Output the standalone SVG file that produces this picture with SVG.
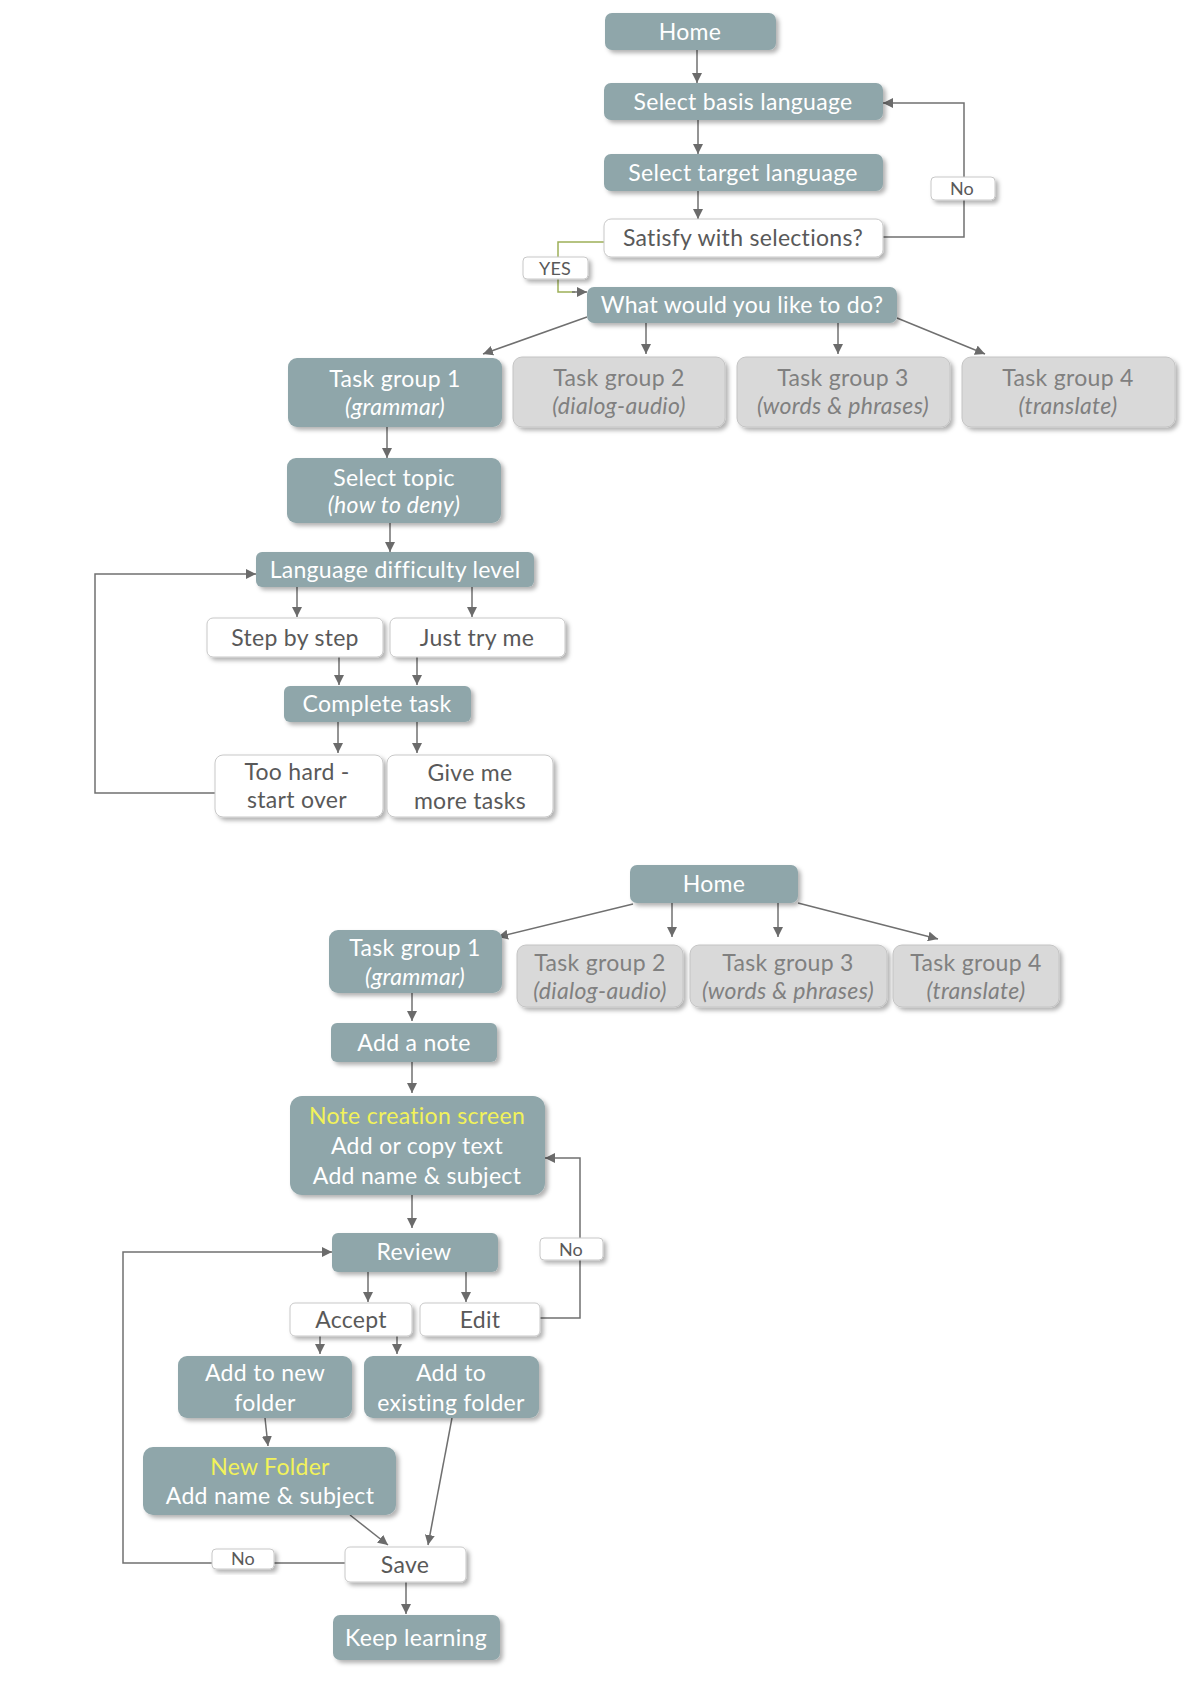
<svg xmlns="http://www.w3.org/2000/svg" width="1200" height="1697" viewBox="0 0 1200 1697">
<defs>
<filter id="sh" x="-10%" y="-20%" width="125%" height="150%">
<feDropShadow dx="3" dy="3" stdDeviation="2" flood-color="#000" flood-opacity="0.3"/>
</filter>
<marker id="ar" viewBox="0 0 10 10" refX="10" refY="5" markerWidth="10" markerHeight="10" markerUnits="userSpaceOnUse" orient="auto">
<path d="M0,0 L10,5 L0,10 z" fill="#6b6b6b"/>
</marker>
</defs>
<style>
.t{fill:#8fa6aa;filter:url(#sh)}
.g{fill:#d9d9d9;stroke:#c4c4c4;stroke-width:1;filter:url(#sh)}
.w{fill:#fff;stroke:#c8c8c8;stroke-width:1;filter:url(#sh)}
text{font-family:Lato,"Open Sans",sans-serif;font-size:23px;letter-spacing:0.3px;text-anchor:middle}
.tw{fill:#fff}
.tg{fill:#808080}
.td{fill:#595959}
.ty{fill:#f2f25a}
.i{font-style:italic}
.s{font-size:18px;letter-spacing:0.2px}
.c{fill:none;stroke:#707070;stroke-width:1.5}
.ca{fill:none;stroke:#707070;stroke-width:1.5;marker-end:url(#ar)}
.cy{fill:none;stroke:#9db058;stroke-width:1.5}
</style>
<rect width="1200" height="1697" fill="#fff"/>

<g id="connectors">
<line class="ca" x1="697" y1="50" x2="697" y2="83"/>
<line class="ca" x1="698" y1="120" x2="698" y2="154"/>
<line class="ca" x1="698" y1="191" x2="698" y2="219"/>
<polyline class="ca" points="883,237 964,237 964,103 883,103"/>
<polyline class="cy" points="604,242 558,242 558,292 575,292"/>
<line class="ca" x1="572" y1="292" x2="587" y2="292"/>
<line class="ca" x1="587" y1="317" x2="483" y2="354"/>
<line class="ca" x1="646" y1="323" x2="646" y2="354"/>
<line class="ca" x1="838" y1="323" x2="838" y2="354"/>
<line class="ca" x1="897" y1="318" x2="985" y2="354"/>
<line class="ca" x1="387" y1="427" x2="387" y2="458"/>
<line class="ca" x1="390" y1="523" x2="390" y2="552"/>
<line class="ca" x1="297" y1="587" x2="297" y2="617"/>
<line class="ca" x1="472" y1="587" x2="472" y2="617"/>
<line class="ca" x1="339" y1="657" x2="339" y2="685"/>
<line class="ca" x1="417" y1="657" x2="417" y2="685"/>
<line class="ca" x1="338" y1="722" x2="338" y2="753"/>
<line class="ca" x1="417" y1="722" x2="417" y2="753"/>
<polyline class="ca" points="215,793 95,793 95,574 256,574"/>

<line class="ca" x1="633" y1="904" x2="498" y2="937"/>
<line class="ca" x1="672" y1="903" x2="672" y2="937"/>
<line class="ca" x1="778" y1="903" x2="778" y2="937"/>
<line class="ca" x1="798" y1="903" x2="938" y2="939"/>
<line class="ca" x1="412" y1="993" x2="412" y2="1021"/>
<line class="ca" x1="412" y1="1062" x2="412" y2="1093"/>
<line class="ca" x1="412" y1="1195" x2="412" y2="1228"/>
<line class="ca" x1="368" y1="1272" x2="368" y2="1302"/>
<line class="ca" x1="466" y1="1272" x2="466" y2="1302"/>
<polyline class="ca" points="540,1318 580,1318 580,1158 545,1158"/>
<line class="ca" x1="320" y1="1336" x2="320" y2="1354"/>
<line class="ca" x1="397" y1="1336" x2="397" y2="1354"/>
<line class="ca" x1="265" y1="1418" x2="268" y2="1446"/>
<line class="ca" x1="350" y1="1515" x2="388" y2="1545"/>
<line class="ca" x1="452" y1="1418" x2="428" y2="1545"/>
<polyline class="ca" points="345,1563 123,1563 123,1252 332,1252"/>
<line class="ca" x1="406" y1="1582" x2="406" y2="1614"/>
</g>

<g id="home1"><rect class="t" x="605" y="13" width="171" height="37" rx="7"/><text class="tw" x="690" y="40">Home</text></g>
<g id="basis"><rect class="t" x="604" y="83" width="279" height="37" rx="7"/><text class="tw" x="743" y="110">Select basis language</text></g>
<g id="target"><rect class="t" x="604" y="154" width="279" height="37" rx="7"/><text class="tw" x="743" y="181">Select target language</text></g>
<g id="satisfy"><rect class="w" x="604" y="219" width="279" height="38" rx="7"/><text class="td" x="743" y="246">Satisfy with selections?</text></g>
<g id="no1"><rect class="w" x="931" y="177" width="64" height="23" rx="4"/><text class="td s" x="962" y="195">No</text></g>
<g id="yes"><rect class="w" x="523" y="257" width="65" height="22" rx="4"/><text class="td s" x="555" y="275">YES</text></g>
<g id="what"><rect class="t" x="587" y="287" width="310" height="36" rx="7"/><text class="tw" x="742" y="313">What would you like to do?</text></g>
<g id="tg1"><rect class="t" x="288" y="358" width="214" height="69" rx="9"/><text class="tw" x="395" y="387">Task group 1</text><text class="tw i" x="395" y="415">(grammar)</text></g>
<g id="tg2"><rect class="g" x="513" y="357" width="212" height="70" rx="9"/><text class="tg" x="619" y="386">Task group 2</text><text class="tg i" x="619" y="414">(dialog-audio)</text></g>
<g id="tg3"><rect class="g" x="737" y="357" width="213" height="70" rx="9"/><text class="tg" x="843" y="386">Task group 3</text><text class="tg i" x="843" y="414">(words &amp; phrases)</text></g>
<g id="tg4"><rect class="g" x="962" y="357" width="213" height="70" rx="9"/><text class="tg" x="1068" y="386">Task group 4</text><text class="tg i" x="1068" y="414">(translate)</text></g>
<g id="topic"><rect class="t" x="287" y="458" width="214" height="65" rx="9"/><text class="tw" x="394" y="486">Select topic</text><text class="tw i" x="394" y="513">(how to deny)</text></g>
<g id="level"><rect class="t" x="256" y="552" width="278" height="35" rx="6"/><text class="tw" x="395" y="578">Language difficulty level</text></g>
<g id="step"><rect class="w" x="207" y="618" width="176" height="39" rx="6"/><text class="td" x="295" y="646">Step by step</text></g>
<g id="just"><rect class="w" x="390" y="618" width="175" height="39" rx="6"/><text class="td" x="477" y="646">Just try me</text></g>
<g id="complete"><rect class="t" x="284" y="686" width="187" height="36" rx="6"/><text class="tw" x="377" y="712">Complete task</text></g>
<g id="toohard"><rect class="w" x="215" y="755" width="168" height="62" rx="8"/><text class="td" x="297" y="780">Too hard -</text><text class="td" x="297" y="808">start over</text></g>
<g id="giveme"><rect class="w" x="387" y="755" width="166" height="62" rx="8"/><text class="td" x="470" y="781">Give me</text><text class="td" x="470" y="809">more tasks</text></g>

<g id="home2"><rect class="t" x="630" y="865" width="168" height="38" rx="7"/><text class="tw" x="714" y="892">Home</text></g>
<g id="tg1b"><rect class="t" x="329" y="930" width="173" height="63" rx="9"/><text class="tw" x="415" y="956">Task group 1</text><text class="tw i" x="415" y="985">(grammar)</text></g>
<g id="tg2b"><rect class="g" x="517" y="945" width="166" height="62" rx="9"/><text class="tg" x="600" y="971">Task group 2</text><text class="tg i" x="600" y="999">(dialog-audio)</text></g>
<g id="tg3b"><rect class="g" x="690" y="945" width="197" height="62" rx="9"/><text class="tg" x="788" y="971">Task group 3</text><text class="tg i" x="788" y="999">(words &amp; phrases)</text></g>
<g id="tg4b"><rect class="g" x="893" y="945" width="166" height="62" rx="9"/><text class="tg" x="976" y="971">Task group 4</text><text class="tg i" x="976" y="999">(translate)</text></g>
<g id="addnote"><rect class="t" x="331" y="1023" width="166" height="39" rx="6"/><text class="tw" x="414" y="1051">Add a note</text></g>
<g id="notescreen"><rect class="t" x="290" y="1096" width="255" height="99" rx="12"/><text class="ty" x="417" y="1124">Note creation screen</text><text class="tw" x="417" y="1154">Add or copy text</text><text class="tw" x="417" y="1184">Add name &amp; subject</text></g>
<g id="review"><rect class="t" x="332" y="1233" width="166" height="39" rx="6"/><text class="tw" x="414" y="1260">Review</text></g>
<g id="no2"><rect class="w" x="540" y="1238" width="63" height="22" rx="4"/><text class="td s" x="571" y="1256">No</text></g>
<g id="accept"><rect class="w" x="290" y="1303" width="122" height="33" rx="5"/><text class="td" x="351" y="1328">Accept</text></g>
<g id="edit"><rect class="w" x="420" y="1303" width="120" height="33" rx="5"/><text class="td" x="480" y="1328">Edit</text></g>
<g id="newfolder"><rect class="t" x="178" y="1356" width="174" height="62" rx="9"/><text class="tw" x="265" y="1381">Add to new</text><text class="tw" x="265" y="1411">folder</text></g>
<g id="existing"><rect class="t" x="364" y="1356" width="175" height="62" rx="9"/><text class="tw" x="451" y="1381">Add to</text><text class="tw" x="451" y="1411">existing folder</text></g>
<g id="newfoldername"><rect class="t" x="143" y="1447" width="253" height="68" rx="10"/><text class="ty" x="270" y="1475">New Folder</text><text class="tw" x="270" y="1504">Add name &amp; subject</text></g>
<g id="save"><rect class="w" x="345" y="1547" width="121" height="35" rx="5"/><text class="td" x="405" y="1573">Save</text></g>
<g id="no3"><rect class="w" x="212" y="1549" width="62" height="20" rx="4"/><text class="td s" x="243" y="1565">No</text></g>
<g id="keep"><rect class="t" x="333" y="1615" width="167" height="45" rx="7"/><text class="tw" x="416" y="1646">Keep learning</text></g>
</svg>
